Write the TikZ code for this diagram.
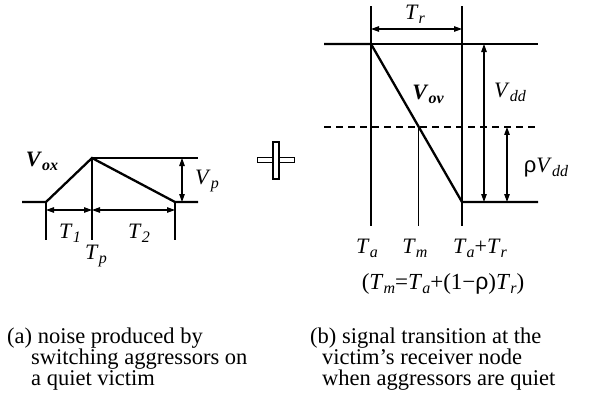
\documentclass[tikz,border=0pt]{standalone}
\usepackage{fontspec}
\setmainfont{Liberation Serif}
\newfontfamily\rhofont{Liberation Sans}
\usetikzlibrary{arrows.meta,calc}

\newcommand{\tsym}[2]{\textit{#1}\raisebox{-0.4ex}{\fontsize{16}{16}\selectfont\itshape #2}}
\newcommand{\bsym}[2]{\textbf{\textit{#1}}\raisebox{-0.4ex}{\fontsize{16}{16}\selectfont\bfseries\itshape #2}}
\newcommand{\rhosym}{{\rhofont ρ}}

\begin{document}
\begin{tikzpicture}[
  x=1pt,y=-1pt,
  thinline/.style={line width=1.1pt},
  wave/.style={line width=2.3pt},
  dim/.style={line width=1.1pt,{Triangle[length=8pt,width=5.5pt]}-{Triangle[length=8pt,width=5.5pt]}},
  lbl/.style={font=\fontsize{22}{22}\selectfont,inner sep=0pt},
  captext/.style={font=\fontsize{22.5}{21}\selectfont,align=left,inner sep=0pt,anchor=north west}
]
  \useasboundingbox (0,0) rectangle (589,400);

  % (a) noise on a quiet victim
  \coordinate (a0) at (22,202);
  \coordinate (a1) at (46,202);
  \coordinate (ap) at (92,158);
  \coordinate (a2) at (175,202);
  \coordinate (a3) at (198,202);
  \coordinate (atr) at (198,158);
  \coordinate (abot) at (0,240);
  \coordinate (atx) at (0,210);
  \coordinate (vpx) at (182,0);

  \draw[wave] (a0) -- (a1) -- (ap) -- (a2) -- (a3);
  \draw[thinline] (ap) -- (atr);
  \draw[thinline] (a1) -- (a1 |- abot);
  \draw[thinline] (ap) -- (ap |- abot);
  \draw[thinline] (a2) -- (a2 |- abot);
  \draw[dim] (a1 |- atx) -- (ap |- atx);
  \draw[dim] (ap |- atx) -- (a2 |- atx);
  \draw[dim] (vpx |- ap) -- (vpx |- a2);

  \node[lbl] (vox) at (42,161) {\bsym{V}{ox}};
  \node[lbl] (t1) at (70,233) {\tsym{T}{1}};
  \node[lbl] (t2) at (139,233) {\tsym{T}{2}};
  \node[lbl] (tp) at (96,256) {\tsym{T}{p}};
  \node[lbl] (vp) at (207,181) {\tsym{V}{p}};

  % plus sign
  \node[draw,thinline,fill=white,minimum width=37pt,minimum height=5pt,inner sep=0pt] (plush) at (276,160) {};
  \node[draw,thinline,fill=white,minimum width=6pt,minimum height=37pt,inner sep=0pt] (plusv) at (276,160.5) {};

  % (b) transition of the victim
  \coordinate (b0) at (324,44);
  \coordinate (b1) at (371,44);
  \coordinate (b2) at (462,202);
  \coordinate (b3) at (538,202);
  \coordinate (btr) at (538,44);
  \coordinate (bm) at ($(b1)!0.525!(b2)$);
  \coordinate (btop) at (0,6);
  \coordinate (bbot) at (0,226);
  \coordinate (trx) at (0,29);
  \coordinate (vdx) at (484,0);
  \coordinate (rvx) at (507,0);

  \draw[wave] (b0) -- (b1) -- (b2) -- (b3);
  \draw[thinline] (b1) -- (btr);
  \draw[thinline,dash pattern=on 7pt off 5pt] (b0 |- bm) -- (b3 |- bm);
  \draw[thinline] (b1 |- btop) -- (b1 |- bbot);
  \draw[thinline] (b2 |- btop) -- (b2 |- bbot);
  \draw[thinline] (bm) -- (bm |- bbot);
  \draw[dim] (b1 |- trx) -- (b2 |- trx);
  \draw[dim] (vdx |- b1) -- (vdx |- b2);
  \draw[dim] (rvx |- bm) -- (rvx |- b2);

  \node[lbl] (tr) at (415,14) {\tsym{T}{r}};
  \node[lbl] (vov) at (428,94) {\bsym{V}{ov}};
  \node[lbl] (vdd) at (510,92) {\tsym{V}{dd}};
  \node[lbl] (rvdd) at (546,168) {\rhosym\tsym{V}{dd}};
  \node[lbl] (ta) at (367,248) {\tsym{T}{a}};
  \node[lbl] (tm) at (415,248) {\tsym{T}{m}};
  \node[lbl] (tatr) at (480,248) {\tsym{T}{a}+\tsym{T}{r}};
  \node[lbl,font=\fontsize{23}{23}\selectfont] (tmeq) at (443,284) {(\tsym{T}{m}=\tsym{T}{a}+(1−\rhosym)\tsym{T}{r})};

  % captions
  \node[captext] (capa) at (7,328) {(a) noise produced by\\\hspace*{24pt}switching aggressors on\\\hspace*{24pt}a quiet victim};
  \node[captext] (capb) at (310,328) {(b) signal transition at the\\\hspace*{12pt}victim’s receiver node\\\hspace*{12pt}when aggressors are quiet};
\end{tikzpicture}
\end{document}
